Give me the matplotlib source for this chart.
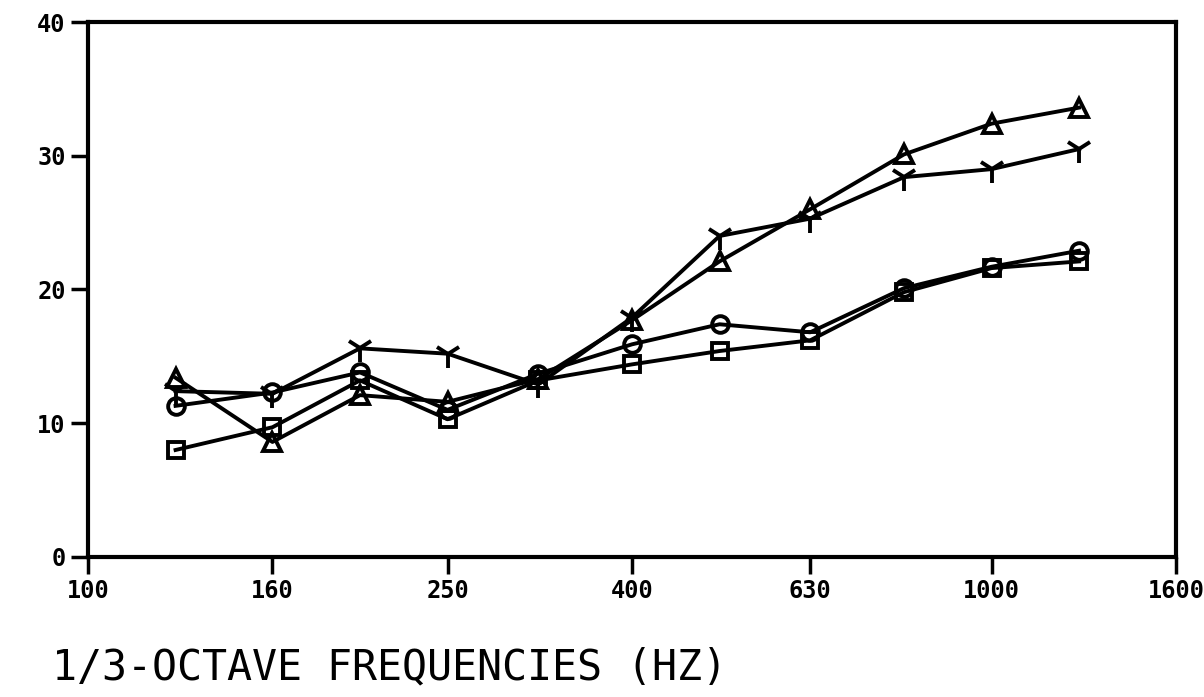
import matplotlib
matplotlib.use("Agg")
from matplotlib import pyplot as plt

freqs = [125, 160, 200, 250, 315, 400, 500, 630, 800, 1000, 1250]
tri = [13.4, 8.6, 12.1, 11.6, 13.3, 17.7, 22.1, 26.0, 30.1, 32.4, 33.6]
ycross = [12.4, 12.2, 15.6, 15.2, 12.9, 17.9, 24.0, 25.3, 28.4, 29.0, 30.5]
circ = [11.3, 12.3, 13.8, 11.0, 13.7, 15.9, 17.4, 16.8, 20.1, 21.7, 22.9]
sq = [8.0, 9.7, 13.2, 10.3, 13.2, 14.4, 15.4, 16.2, 19.8, 21.6, 22.1]

xticks = [100, 160, 250, 400, 630, 1000, 1600]
yticks = [0, 10, 20, 30, 40]

fig = plt.figure(figsize=(12.04, 6.97), dpi=100)
ax = fig.add_axes([0.0731, 0.2009, 0.9036, 0.7675])

style = dict(color="black", lw=2.8, markeredgewidth=2.8, markerfacecolor="none")
ax.plot(freqs, sq, marker="s", markersize=12, **style)
ax.plot(freqs, circ, marker="o", markersize=12, **style)
ax.plot(freqs, tri, marker="^", markersize=13, **style)
ax.plot(freqs, ycross, marker="1", markersize=20, **style)

ax.set_xscale("log")
ax.set_xlim(100, 1600)
ax.set_ylim(0, 40)
ax.set_xticks(xticks)
ax.set_xticklabels([str(t) for t in xticks])
ax.minorticks_off()
ax.set_yticks(yticks)
ax.set_yticklabels([str(t) for t in yticks])

for s in ax.spines.values():
    s.set_linewidth(3)
ax.tick_params(direction="out", length=12, width=2.5, pad=4)
for lab in ax.get_xticklabels() + ax.get_yticklabels():
    lab.set_family("DejaVu Sans Mono")
    lab.set_fontweight("bold")
    lab.set_fontsize(17)

fig.text(0.043, 0.043, "1/3-OCTAVE FREQUENCIES (HZ)", family="DejaVu Sans Mono",
         fontsize=30, ha="left", va="center")

fig.savefig("out.png", dpi=100)
